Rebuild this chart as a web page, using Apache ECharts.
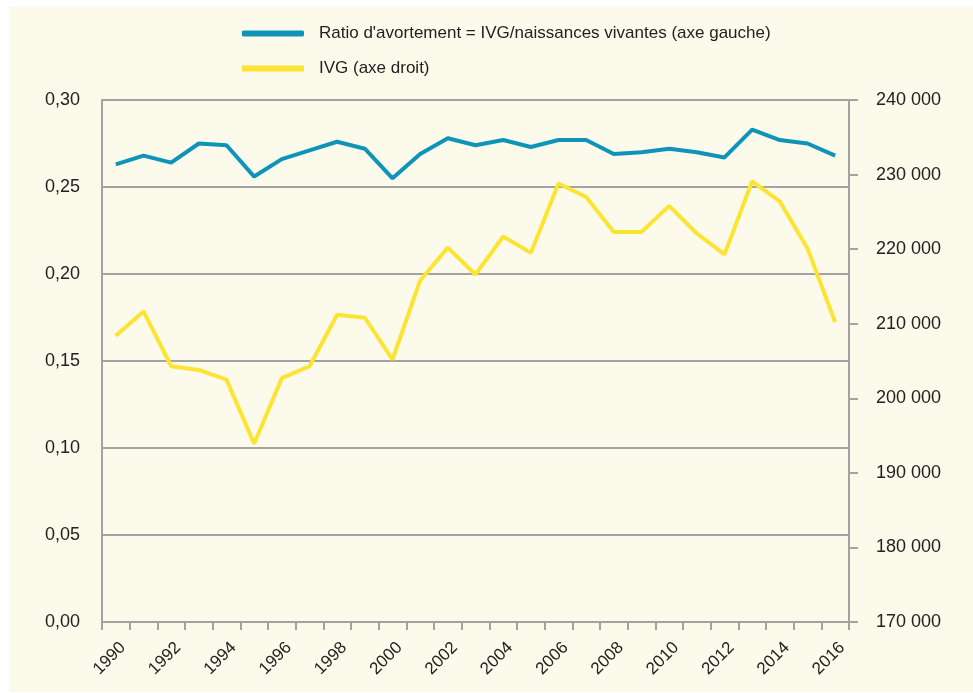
<!DOCTYPE html>
<html>
<head>
<meta charset="utf-8">
<script src="https://cdn.jsdelivr.net/npm/echarts@6/dist/echarts.min.js"></script>
<style>
  html, body { margin: 0; padding: 0; background: #ffffff; }
  #chart { position: absolute; left: 9px; top: 7px; width: 964px; height: 685px; }
</style>
</head>
<body>
<div id="chart"></div>
<script>
const years = ['1990','1991','1992','1993','1994','1995','1996','1997','1998','1999','2000','2001','2002','2003',
  '2004','2005','2006','2007','2008','2009','2010','2011','2012','2013','2014','2015','2016']

// ratio IVG / naissances vivantes (axe gauche)
const ratio = [0.263, 0.268, 0.264, 0.275, 0.274, 0.256, 0.266, 0.271, 0.276, 0.272, 0.255, 0.269, 0.278, 0.274,
  0.277, 0.273, 0.277, 0.277, 0.269, 0.270, 0.272, 0.270, 0.267, 0.283, 0.277, 0.275, 0.268]

// nombre d'IVG (axe droit)
const ivg = [208400, 211650, 204300, 203800, 202500, 193900, 202700, 204300, 211200, 210800, 205200, 215800, 220200, 216600,
  221700, 219500, 228800, 227000, 222300, 222300, 225800, 222100, 219300, 229100, 226400, 220100, 210200]

const seriesNames = ["Ratio d'avortement = IVG/naissances vivantes (axe gauche)", 'IVG (axe droit)']

const font = 'Liberation Sans'
const grey = '#a3a3a3'

const chart = echarts.init(document.getElementById('chart'))
chart.setOption({
    backgroundColor: '#fcfaea',
    animation: false,
    legend: {
        orient: 'vertical',
        left: 228,
        top: 13,
        itemWidth: 62,
        itemHeight: 6,
        itemGap: 18,
        textStyle: { fontFamily: font, fontSize: 17, color: '#222', padding: [0, 0, 0, 10] },
        data: [
            { name: seriesNames[0], icon: 'roundRect' },
            { name: seriesNames[1], icon: 'rect' }
        ]
    },
    grid: { left: 93, right: 124, top: 93, bottom: 70 },
    xAxis: {
        type: 'category',
        data: years,
        boundaryGap: true,
        axisLine: { lineStyle: { color: grey, width: 2 } },
        axisTick: { show: true, interval: 0, length: 8, lineStyle: { color: grey, width: 2 } },
        axisLabel: {
            interval: 1,
            rotate: 45,
            margin: 16,
            verticalAlign: 'top',
            lineHeight: 20,
            fontFamily: font,
            fontSize: 17,
            color: '#222'
        }
    },
    yAxis: [
        {
            type: 'value',
            min: 0,
            max: 0.30,
            interval: 0.05,
            axisLine: { show: true, lineStyle: { color: grey, width: 2 } },
            axisTick: { show: false },
            splitLine: { lineStyle: { color: grey, width: 2 } },
            axisLabel: {
                margin: 22,
                fontFamily: font,
                fontSize: 18,
                color: '#222',
                formatter: v => v.toFixed(2).replace('.', ',')
            }
        },
        {
            type: 'value',
            min: 170000,
            max: 240000,
            interval: 10000,
            position: 'right',
            axisLine: { show: true, lineStyle: { color: grey, width: 2 } },
            axisTick: { show: true, length: 9, lineStyle: { color: grey, width: 2 } },
            splitLine: { show: false },
            axisLabel: {
                margin: 27,
                fontFamily: font,
                fontSize: 18,
                color: '#222',
                formatter: v => String(v).replace(/(\d{3})$/, ' $1')
            }
        }
    ],
    series: [
        {
            name: seriesNames[0],
            type: 'line',
            yAxisIndex: 0,
            data: ratio,
            symbol: 'none',
            itemStyle: { color: '#0f94b9' },
            lineStyle: { color: '#0f94b9', width: 4 }
        },
        {
            name: seriesNames[1],
            type: 'line',
            yAxisIndex: 1,
            data: ivg,
            symbol: 'none',
            itemStyle: { color: '#fde433' },
            lineStyle: { color: '#fde433', width: 4 }
        }
    ]
})

window.addEventListener('resize', () => {
    chart.resize()
})
</script>
</body>
</html>
